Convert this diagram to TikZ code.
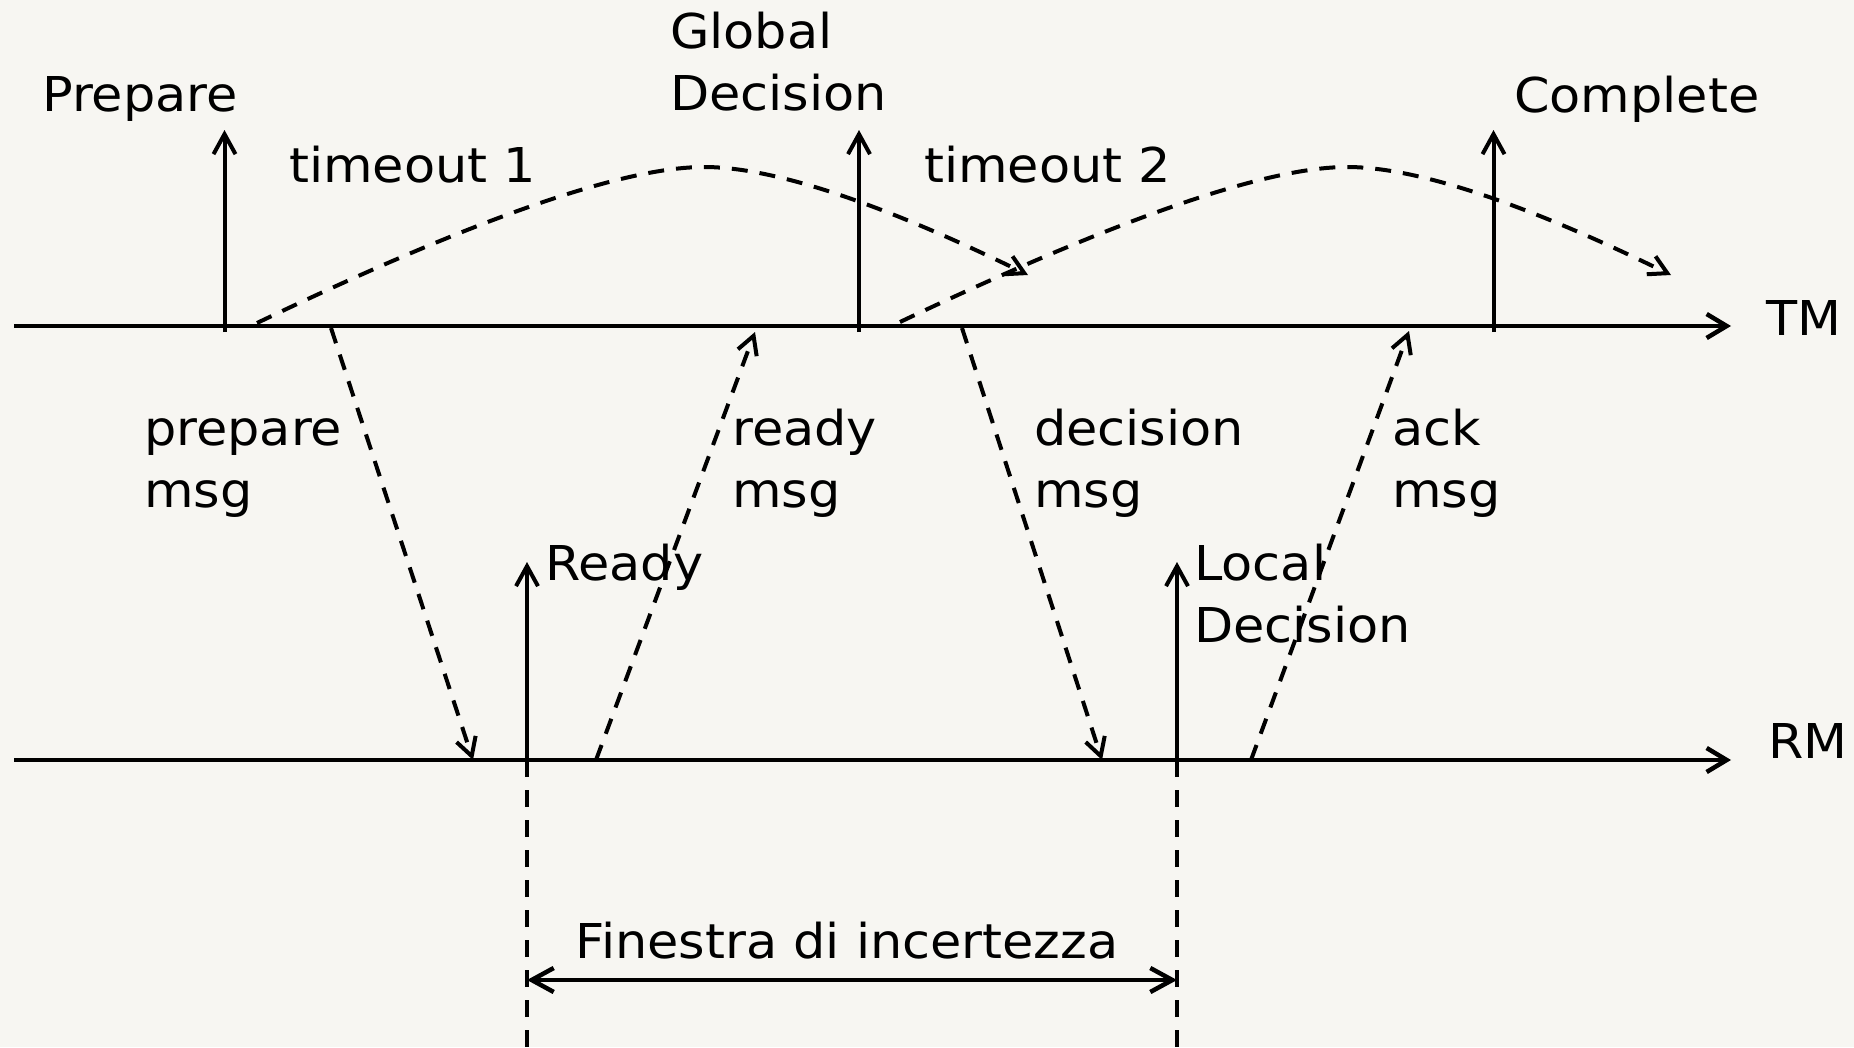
\documentclass[tikz,border=0pt]{standalone}
\usepackage{fontspec}
\setmainfont{DejaVu Sans}[FakeStretch=1.06]
\usetikzlibrary{arrows.meta}
\definecolor{bgc}{HTML}{F7F6F2}
\begin{document}
\begin{tikzpicture}[x=1pt,y=-1pt,
  lbl/.style={anchor=base west,inner sep=0pt,font=\fontsize{48}{62}\selectfont},
  axis/.style={line width=4.5pt,-{Straight Barb[length=20pt,width=24pt,line width=4.5pt]}},
  event/.style={line width=4pt,-{Straight Barb[length=20pt,width=22pt,line width=4pt]}},
  msgline/.style={line width=4pt,dash pattern=on 16pt off 12pt,-{Straight Barb[length=18pt,width=20pt,line width=4pt]}},
  guide/.style={line width=4pt,dash pattern=on 17pt off 13pt},
  window/.style={line width=4.5pt,{Straight Barb[length=22pt,width=24pt,line width=4.5pt]}-{Straight Barb[length=22pt,width=24pt,line width=4.5pt]}}
]
\fill[bgc] (0,0) rectangle (1854,1047);
\useasboundingbox (0,0) rectangle (1854,1047);

% timelines
\coordinate (tm0) at (14,326);
\coordinate (tm1) at (1731,326);
\coordinate (rm0) at (14,760);
\coordinate (rm1) at (1731,760);
\draw[axis] (tm0) -- (tm1);
\draw[axis] (rm0) -- (rm1);
\node[lbl] (tmlbl) at (1766,335) {TM};
\node[lbl] (rmlbl) at (1768,758) {RM};

% TM events
\coordinate (prepB) at (224.5,332);
\coordinate (prepT) at (224.5,130);
\coordinate (gdB) at (859,332);
\coordinate (gdT) at (859,130);
\coordinate (compB) at (1493.5,332);
\coordinate (compT) at (1493.5,130);
\draw[event] (prepB) -- (prepT);
\draw[event] (gdB) -- (gdT);
\draw[event] (compB) -- (compT);
\node[lbl] (preplbl) at (42,111) {Prepare};
\node[lbl] (gdlbl1) at (670,48) {Global};
\node[lbl] (gdlbl2) at (670,110) {Decision};
\node[lbl] (complbl) at (1514,112) {Complete};

% timeouts
\node[lbl] (to1) at (289,182) {timeout 1};
\node[lbl] (to2) at (924,182) {timeout 2};
\coordinate (c1s) at (257,323);
\coordinate (c1p) at (704,167);
\coordinate (c1e) at (1028,275);
\coordinate (c2s) at (900,322);
\coordinate (c2p) at (1347,167);
\coordinate (c2e) at (1671,275);
\draw[msgline] (c1s) .. controls (474,219) and (623,167) .. (c1p) .. controls (773,167) and (881,203) .. (c1e);
\draw[msgline] (c2s) .. controls (1117,219) and (1266,167) .. (c2p) .. controls (1416,167) and (1524,203) .. (c2e);

% RM events
\coordinate (readyB) at (527,767);
\coordinate (readyT) at (527,562);
\coordinate (ldB) at (1177,767);
\coordinate (ldT) at (1177,562);
\draw[event] (readyB) -- (readyT);
\draw[event] (ldB) -- (ldT);
\node[lbl] (readylbl) at (545,580) {Ready};
\node[lbl] (ldlbl1) at (1194,580) {Local};
\node[lbl] (ldlbl2) at (1194,642) {Decision};

% messages
\coordinate (pmS) at (331,328);
\coordinate (pmE) at (473,760);
\coordinate (rdS) at (596,760);
\coordinate (rdE) at (755,332);
\coordinate (dmS) at (962,328);
\coordinate (dmE) at (1102,760);
\coordinate (akS) at (1251,760);
\coordinate (akE) at (1409,331);
\draw[msgline] (pmS) -- (pmE);
\draw[msgline] (rdS) -- (rdE);
\draw[msgline] (dmS) -- (dmE);
\draw[msgline] (akS) -- (akE);
\node[lbl] (pm1) at (144,445) {prepare};
\node[lbl] (pm2) at (144,507) {msg};
\node[lbl] (rd1) at (732,445) {ready};
\node[lbl] (rd2) at (732,507) {msg};
\node[lbl] (dm1) at (1034,445) {decision};
\node[lbl] (dm2) at (1034,507) {msg};
\node[lbl] (ak1) at (1392,445) {ack};
\node[lbl] (ak2) at (1392,507) {msg};

% uncertainty window
\coordinate (g1t) at (527,760);
\coordinate (g1b) at (527,1047);
\coordinate (g2t) at (1177,760);
\coordinate (g2b) at (1177,1047);
\draw[guide] (g1t) -- (g1b);
\draw[guide] (g2t) -- (g2b);
\coordinate (w1) at (527,980);
\coordinate (w2) at (1177,980);
\draw[window] (w1) -- (w2);
\node[lbl,anchor=base] (winlbl) at (847,958) {Finestra di incertezza};
\end{tikzpicture}
\end{document}
